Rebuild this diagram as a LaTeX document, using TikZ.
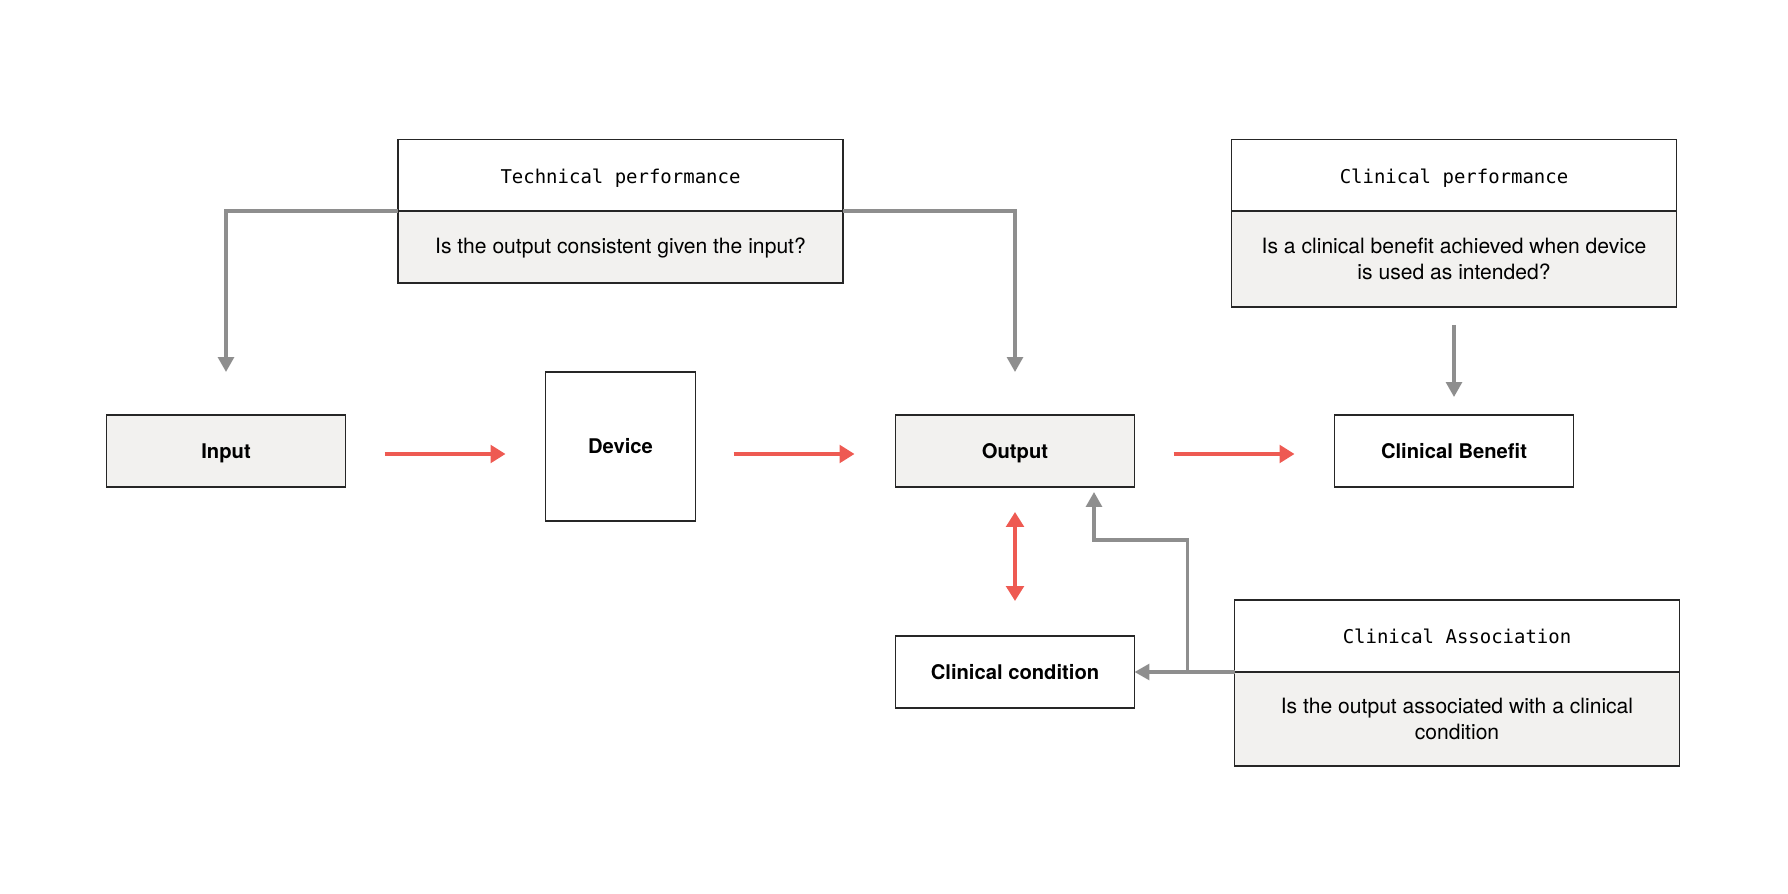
\documentclass[tikz,border=0pt]{standalone}
\usepackage{fontspec}
\setmainfont{TeX Gyre Heros}
\setmonofont{DejaVu Sans Mono}
\usepackage{tikz}
\usetikzlibrary{positioning,calc,arrows.meta}
\definecolor{BoxGray}{HTML}{F2F1EF}
\definecolor{LineGray}{HTML}{8E8E8E}
\definecolor{CoralRed}{HTML}{EE5A52}
\definecolor{EdgeBlack}{HTML}{262626}

\begin{document}
\begin{tikzpicture}[
  node distance=4cm,
  box/.style={draw=EdgeBlack, line width=1pt, outer sep=0pt, minimum width=4.78cm, minimum height=1.44cm, text height=1em, text depth=0.15em, font=\fontsize{11.5pt}{14pt}\selectfont\bfseries},
  headbox/.style={draw=EdgeBlack, line width=1pt, outer sep=0pt, fill=white, minimum width=8.9cm, minimum height=1.43cm, text height=1.05em, text depth=0.15em, font=\fontsize{10.8pt}{13pt}\selectfont\ttfamily},
  bodybox/.style={draw=EdgeBlack, line width=1pt, outer sep=0pt, fill=BoxGray, minimum width=8.9cm, align=center, font=\fontsize{12pt}{14.3pt}\selectfont},
  redarr/.style={-{Triangle[length=8.5pt, width=10pt]}, draw=CoralRed, line width=2pt},
  grayarr/.style={-{Triangle[length=8.5pt, width=9pt]}, draw=LineGray, line width=1.9pt}
]
\useasboundingbox (0,0) rectangle (35.76,-17.88);

\node[box, fill=BoxGray] (input) at (4.52,-9.02) {Input};
\node[box, minimum width=3cm, minimum height=2.98cm, right=of input, yshift=0.09cm] (device) {Device};
\node[box, fill=BoxGray, right=4cm of device.east |- input.east] (output) {Output};
\node[box, right=of output] (benefit) {Clinical Benefit};
\node[box, below=2.98cm of output] (condition) {Clinical condition};

\node[bodybox, minimum height=1.44cm, text height=0.9em, text depth=0.15em, above=1.78cm of device] (techbody) {Is the output consistent given the input?};
\node[headbox, above=0pt of techbody] (techhead) {Technical performance};

\node[bodybox, minimum height=1.92cm, above=2.16cm of benefit] (cpbody) {Is a clinical benefit achieved when device\\is used as intended?};
\node[headbox, above=0pt of cpbody] (cphead) {Clinical performance};

\node[headbox, minimum height=1.44cm, anchor=south west] (cahead) at ([xshift=2cm]condition.east) {Clinical Association};
\node[bodybox, minimum height=1.88cm, below=0pt of cahead] (cabody) {Is the output associated with a clinical\\condition};

\draw[redarr, shorten <=0.78cm, shorten >=0.8cm] ([yshift=-0.06cm]input.east) -- ([yshift=-0.06cm]input.east -| device.west);
\draw[redarr, shorten <=0.76cm, shorten >=0.82cm] ([yshift=-0.06cm]device.east |- output.west) -- ([yshift=-0.06cm]output.west);
\draw[redarr, shorten <=0.78cm, shorten >=0.8cm] ([yshift=-0.06cm]output.east) -- ([yshift=-0.06cm]benefit.west);
\draw[redarr, {Triangle[length=8.5pt, width=10pt]}-{Triangle[length=8.5pt, width=10pt]}, shorten <=0.5cm, shorten >=0.7cm] (output) -- (condition);

\draw[grayarr, shorten >=0.86cm] (techhead.south west) -| (input.north);
\draw[grayarr, shorten >=0.86cm] (techhead.south east) -| (output.north);
\draw[grayarr, shorten <=0.36cm, shorten >=0.36cm] (cpbody) -- (benefit);

\coordinate (split) at ([xshift=-0.94cm]cahead.south west);
\draw[grayarr] (cahead.south west) -- (condition.east);
\draw[grayarr, shorten >=0.1cm] (split) -- ++(0,2.64) -| ([xshift=1.58cm]output.south);
\end{tikzpicture}
\end{document}
